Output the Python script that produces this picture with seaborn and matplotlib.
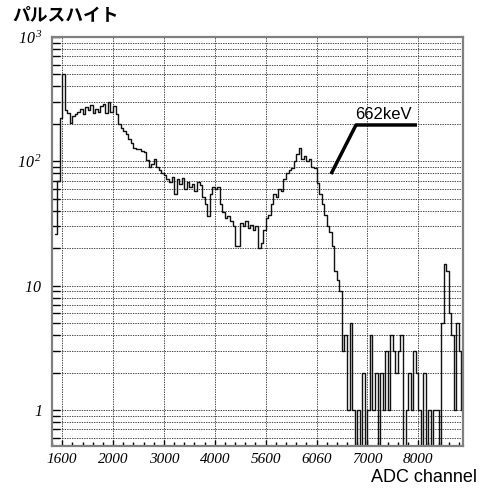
import matplotlib
matplotlib.use("Agg")
import matplotlib.pyplot as plt
import numpy as np
import pandas as pd
import seaborn as sns
from matplotlib.ticker import FixedLocator, FixedFormatter, LogLocator, MultipleLocator, NullFormatter

# pulse height spectrum, 50-channel bins starting at channel 850
BIN_START = 850
BIN_WIDTH = 50
COUNTS = [
    26, 70, 225, 500, 259, 245, 205, 230, 240, 250,
    265, 240, 275, 260, 285, 245, 265, 250, 280, 290,
    245, 300, 250, 280, 240, 200, 185, 175, 165, 150,
    140, 128, 125, 125, 120, 118, 103, 90, 95, 105,
    90, 85, 80, 78, 72, 68, 75, 55, 72, 66,
    74, 60, 68, 62, 66, 58, 68, 64, 52, 45,
    36, 55, 62, 60, 62, 45, 39, 35, 36, 33,
    30, 21, 21, 32, 30, 33, 29, 31, 28, 30,
    20, 22, 28, 35, 37, 45, 55, 52, 60, 58,
    72, 80, 85, 88, 100, 115, 128, 105, 110, 100,
    105, 90, 88, 67, 55, 45, 37, 30, 27, 21,
    13, 11, 9, 3, 4, 1, 5, 1, 0, 1,
    0, 2, 0, 1, 4, 1, 2, 0, 2, 1,
    3, 1, 4, 3, 2, 3, 4, 0, 1, 2,
    1, 3, 2, 1, 0, 2, 0, 1, 0, 1,
    1, 0, 5, 15, 13, 6, 4, 1, 5, 3,
    1,
]

X_TICKS = [1000, 2000, 3000, 4000, 5000, 6000, 7000, 8000]
X_TICK_LABELS = ["1600", "2000", "3000", "4000", "5600", "6060", "7000", "8000"]
Y_TICKS = [1, 10, 100, 1000]
Y_TICK_LABELS = ["$1$", "$10$", r"$10^{\,2}$", r"$10^{\,3}$"]

PEAK_LABEL = "662keV"
PEAK_LINE_X = [6285, 6776, 7975]
PEAK_LINE_Y = [79, 196, 196]

bin_end = BIN_START + BIN_WIDTH * len(COUNTS)
df = pd.DataFrame({
    "channel": BIN_START + BIN_WIDTH * np.arange(len(COUNTS)) + BIN_WIDTH / 2,
    "counts": COUNTS,
})

sns.set_theme(style="white", rc={"text.color": "black",
                                 "xtick.color": "black", "ytick.color": "black"})
plt.rcParams["font.family"] = ["Liberation Sans", "DejaVu Sans"]
plt.rcParams["mathtext.fontset"] = "custom"
plt.rcParams["mathtext.it"] = "Liberation Serif:italic"
plt.rcParams["mathtext.rm"] = "Liberation Serif:italic"
plt.rcParams["mathtext.default"] = "it"

fig = plt.figure(figsize=(4.79, 4.88), dpi=100)
ax = fig.add_axes([52 / 479, 1 - 446 / 488, 411 / 479, 409 / 488])

sns.histplot(data=df, x="channel", weights="counts",
             binwidth=BIN_WIDTH, binrange=(BIN_START, bin_end),
             element="step", fill=False, color="#111111", linewidth=1.0, ax=ax)

ax.set_yscale("log")
ax.set_xlim(800, 8880)
ax.set_ylim(0.513, 1000)

ax.xaxis.set_major_locator(FixedLocator(X_TICKS))
ax.xaxis.set_major_formatter(FixedFormatter(X_TICK_LABELS))
ax.xaxis.set_minor_locator(MultipleLocator(200))
ax.yaxis.set_major_locator(FixedLocator(Y_TICKS))
ax.yaxis.set_major_formatter(FixedFormatter(Y_TICK_LABELS))
ax.yaxis.set_minor_locator(LogLocator(base=10, subs=range(2, 10)))
ax.yaxis.set_minor_formatter(NullFormatter())

grid_kw = dict(color="#3a3a3a", linestyle=(0, (1.5, 1.2)), linewidth=0.65)
ax.grid(True, which="major", axis="x", **grid_kw)
ax.grid(True, which="both", axis="y", **grid_kw)

ax.tick_params(axis="y", which="both", direction="in", length=6, width=1,
               color="black", left=True, pad=7)
ax.tick_params(axis="x", which="major", direction="in", length=4, width=1,
               color="black", bottom=True, pad=5)
ax.tick_params(axis="x", which="minor", direction="in", length=3, width=1,
               color="black", bottom=True)
for lab in ax.get_xticklabels():
    lab.set_fontfamily("Liberation Serif")
    lab.set_fontstyle("italic")
    lab.set_fontsize(11)
for lab in ax.get_yticklabels():
    lab.set_fontsize(11.5)

for sp in ax.spines.values():
    sp.set_color("#808080")
    sp.set_linewidth(1.6)

ax.set_xlabel("")
ax.set_ylabel("")

ax.plot(PEAK_LINE_X, PEAK_LINE_Y, color="black", linewidth=2.5, solid_capstyle="butt")
ax.text(7311, 236, PEAK_LABEL, ha="center", va="center", fontsize=12,
        family="Liberation Sans")

fig.text(12 / 479, 1 - 15 / 488, "パルスハイト", ha="left", va="center",
         fontsize=12.8, fontweight="bold", family=["Noto Sans CJK JP", "DejaVu Sans"])
fig.text(477 / 479, 1 - 477 / 488, "ADC channel", ha="right", va="center",
         fontsize=13, family="Liberation Sans")

fig.savefig("out.png", dpi=100)
